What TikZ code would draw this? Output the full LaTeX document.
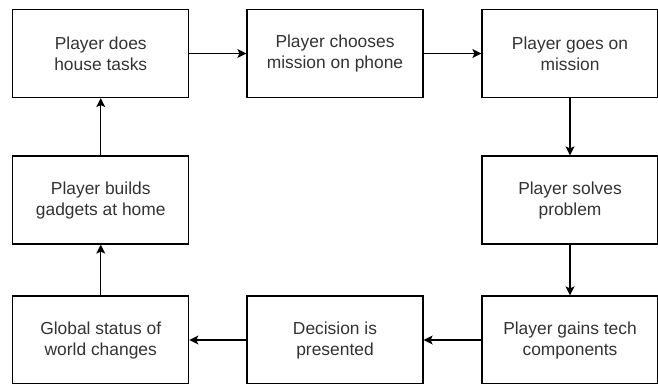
\documentclass[tikz,border=0pt]{standalone}
\usepackage{fontspec}
\setmainfont{Liberation Sans}
\usetikzlibrary{arrows.meta}
\begin{document}
\begin{tikzpicture}[
        x=1pt, y=-1pt,
        every node/.style={draw, rectangle, minimum width=176pt, minimum height=88pt, align=center, line width=1.2pt, text=black!80, font=\fontsize{17.4}{21}\selectfont},
        flow/.style={draw, line width=1.2pt, -{Stealth[length=9pt, width=9pt, inset=2pt]}},
    ]
    \useasboundingbox (0,0) rectangle (658,383);
    % top row
    \node (tasks) at (100.75,53.5) {Player does\\house tasks};
    \node (choose) at (335,53.5) {Player chooses\\mission on phone};
    \node (mission) at (570,53.5) {Player goes on\\mission};
    % middle row
    \node (gadgets) at (100.75,200) {Player builds\\gadgets at home};
    \node (solve) at (570,200) {Player solves\\problem};
    % bottom row
    \node (world) at (100.75,340) {Global status of\\world changes};
    \node (decision) at (335,340) {Decision is\\presented};
    \node (gain) at (570,340) {Player gains tech\\components};

    \draw[flow] (tasks) -- (choose);
    \draw[flow] (choose) -- (mission);
    \draw[flow] (mission) -- (solve);
    \draw[flow] (solve) -- (gain);
    \draw[flow] (gain) -- (decision);
    \draw[flow] (decision) -- (world);
    \draw[flow] (world) -- (gadgets);
    \draw[flow] (gadgets) -- (tasks);
\end{tikzpicture}
\end{document}
